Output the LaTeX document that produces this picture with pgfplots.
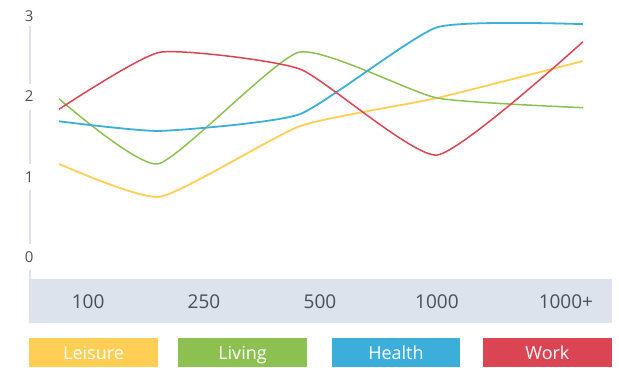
\documentclass[border=0pt]{standalone}
\usepackage{fontspec}
\setmainfont{Open Sans}
\usepackage{pgfplots}
\pgfplotsset{compat=1.18}
\definecolor{cLeisure}{HTML}{FFCE54}
\definecolor{cLiving}{HTML}{8CC152}
\definecolor{cHealth}{HTML}{3BAFDA}
\definecolor{cWork}{HTML}{DA4453}
\definecolor{cBand}{HTML}{DCE3EC}
\definecolor{cText}{HTML}{4A5058}
\begin{document}
\begin{tikzpicture}
\begin{axis}[
  set layers=standard,
  scale only axis, width=619pt, height=367pt,
  xmin=0, xmax=619, ymin=-1.3693, ymax=3.1993,
  axis line style={draw=none},
  major tick length=0pt,
  xtick={88,204,320,437,566},
  xticklabels={100,250,500,1000,1000+},
  xticklabel style={anchor=center, yshift=65pt, font=\fontsize{19}{22}\selectfont, text=cText},
  ytick={0,1,2,3},
  yticklabel style={anchor=center, xshift=29pt, font=\fontsize{15}{18}\selectfont, text=cText},
  /pgf/number format/assume math mode=true,
  clip=false,
  every axis plot/.append style={smooth, tension=0.3, no markers, line join=round},
]
\begin{pgfonlayer}{axis background}
\fill[cBand] (axis cs:29,-0.274) rectangle (axis cs:612,-0.822);
\draw[cBand, line width=2pt] (axis cs:30,2.876) -- (axis cs:30,2.154);
\draw[cBand, line width=2pt] (axis cs:30,1.830) -- (axis cs:30,1.158);
\draw[cBand, line width=2pt] (axis cs:30,0.834) -- (axis cs:30,0.162);
\draw[cBand, line width=2pt] (axis cs:30,-0.162) -- (axis cs:30,-0.274);
\end{pgfonlayer}

\addplot[cLeisure, line width=1.8pt] coordinates {(59,1.16) (160,0.75) (300,1.63) (437,1.98) (583,2.44)};
\addplot[cLiving, line width=1.5pt] coordinates {(59,1.97) (158,1.16) (299,2.55) (437,1.98) (583,1.86)};
\addplot[cHealth, line width=1.8pt] coordinates {(59,1.69) (160,1.57) (300,1.78) (437,2.86) (583,2.90)};
\addplot[cWork, line width=1.5pt] coordinates {(59,1.84) (160,2.55) (300,2.34) (437,1.27) (583,2.68)};

\fill[cLeisure] (axis cs:29,-1.008) rectangle (axis cs:158,-1.369);
\fill[cLiving] (axis cs:178,-1.008) rectangle (axis cs:307,-1.369);
\fill[cHealth] (axis cs:332,-1.008) rectangle (axis cs:460,-1.369);
\fill[cWork] (axis cs:483,-1.008) rectangle (axis cs:612,-1.369);
\node[anchor=base, text=white, font=\fontsize{18}{21}\selectfont] at (axis cs:93.5,-1.270) {Leisure};
\node[anchor=base, text=white, font=\fontsize{18}{21}\selectfont] at (axis cs:242.5,-1.270) {Living};
\node[anchor=base, text=white, font=\fontsize{18}{21}\selectfont] at (axis cs:396,-1.270) {Health};
\node[anchor=base, text=white, font=\fontsize{18}{21}\selectfont] at (axis cs:547.5,-1.270) {Work};
\end{axis}
\end{tikzpicture}
\end{document}
